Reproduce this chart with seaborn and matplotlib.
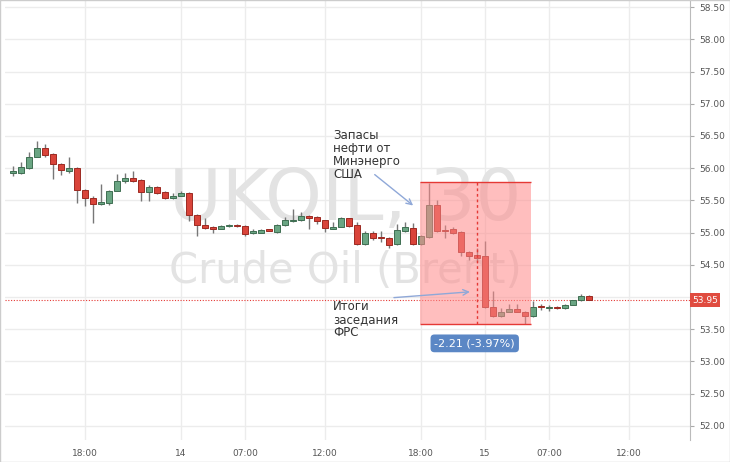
import matplotlib
matplotlib.use("Agg")
import matplotlib.pyplot as plt
from matplotlib.patches import Rectangle
import seaborn as sns
import numpy as np

sns.set_style("white")
plt.rcParams["font.family"] = ["DejaVu Sans"]

# -----------------------------
# Data: 30-minute candles, UKOIL
# -----------------------------
opens = [55.92, 55.92, 56.00, 56.18, 56.31, 56.22, 56.06, 55.95, 56.00, 55.66,
         55.54, 55.45, 55.46, 55.65, 55.80, 55.85, 55.82, 55.63, 55.71, 55.63,
         55.54, 55.57, 55.62, 55.28, 55.12, 55.09, 55.06, 55.10, 55.12, 55.10,
         55.00, 55.00, 55.04, 55.01, 55.11, 55.18, 55.19, 55.26, 55.24, 55.19,
         55.06, 55.09, 55.22, 55.11, 54.82, 54.99, 54.93, 54.92, 54.82, 55.02,
         55.07, 54.82, 54.93, 55.43, 55.04, 55.05, 55.01, 54.70, 54.65, 54.63,
         53.84, 53.70, 53.77, 53.82, 53.77, 53.70, 53.85, 53.83, 53.84, 53.83,
         53.88, 53.95, 54.02]
closes = [55.95, 56.02, 56.18, 56.31, 56.20, 56.06, 55.97, 56.00, 55.66, 55.54,
          55.45, 55.48, 55.65, 55.80, 55.85, 55.80, 55.63, 55.71, 55.62, 55.54,
          55.57, 55.62, 55.28, 55.12, 55.07, 55.06, 55.10, 55.12, 55.10, 54.98,
          55.02, 55.04, 55.03, 55.12, 55.19, 55.20, 55.26, 55.23, 55.18, 55.07,
          55.09, 55.22, 55.10, 54.82, 54.99, 54.92, 54.91, 54.81, 55.04, 55.08,
          54.82, 54.94, 55.43, 55.02, 55.02, 55.00, 54.70, 54.64, 54.61, 53.84,
          53.70, 53.77, 53.82, 53.77, 53.70, 53.84, 53.84, 53.85, 53.83, 53.88,
          53.95, 54.02, 53.96]
highs = [56.03, 56.09, 56.25, 56.42, 56.38, 56.23, 56.08, 56.17, 56.01, 55.68,
         55.56, 55.75, 55.66, 55.91, 55.92, 55.95, 55.83, 55.74, 55.72, 55.64,
         55.61, 55.64, 55.63, 55.29, 55.22, 55.10, 55.11, 55.14, 55.14, 55.11,
         55.06, 55.05, 55.05, 55.13, 55.24, 55.36, 55.32, 55.27, 55.25, 55.20,
         55.16, 55.24, 55.23, 55.16, 55.02, 55.03, 55.02, 54.93, 55.14, 55.17,
         55.15, 54.96, 55.77, 55.50, 55.11, 55.08, 55.02, 54.71, 54.76, 54.87,
         54.09, 53.83, 53.89, 53.89, 53.78, 53.93, 53.89, 53.88, 53.86, 53.89,
         53.96, 54.04, 54.03]
lows = [55.88, 55.91, 55.99, 56.17, 56.18, 55.83, 55.89, 55.93, 55.46, 55.42,
        55.15, 55.43, 55.43, 55.64, 55.77, 55.79, 55.49, 55.49, 55.60, 55.52,
        55.52, 55.56, 55.18, 54.94, 55.06, 55.00, 55.05, 55.09, 55.09, 54.94,
        54.98, 54.99, 55.02, 55.00, 55.10, 55.17, 55.18, 55.06, 55.14, 55.01,
        55.05, 55.08, 55.09, 54.81, 54.81, 54.88, 54.86, 54.76, 54.81, 55.01,
        54.80, 54.81, 54.92, 55.01, 54.91, 54.98, 54.63, 54.57, 54.55, 53.83,
        53.69, 53.69, 53.76, 53.76, 53.58, 53.69, 53.80, 53.79, 53.82, 53.82,
        53.87, 53.94, 53.95]

time_ticks = [9, 21, 29, 39, 51, 59, 67, 77]
time_labels = ["18:00", "14", "07:00", "12:00", "18:00", "15", "07:00", "12:00"]
price_ticks = np.arange(52.0, 58.51, 0.5)
last_price = 53.95

# -----------------------------
# Figure
# -----------------------------
fig = plt.figure(figsize=(7.3, 4.62), dpi=100)
ax = fig.add_axes([5 / 730, 22 / 462, 685 / 730, 440 / 462])
ax.set_xlim(-1, 84.6)
ax.set_ylim(51.78, 58.61)

for t in time_ticks:
    ax.axvline(t, color="#ececec", lw=1, zorder=0)
for p in price_ticks:
    ax.axhline(p, color="#ececec", lw=1, zorder=0)

green, green_e = "#6aa583", "#3f6e52"
red, red_e = "#d9443a", "#9c2a22"
x = np.arange(len(opens))
for i in x:
    o, c = opens[i], closes[i]
    up = c >= o
    fc, ec = (green, green_e) if up else (red, red_e)
    ax.vlines(i, lows[i], highs[i], color="#777777", lw=1, zorder=2)
    ax.bar(i, max(abs(c - o), 0.02), bottom=min(o, c), width=0.72,
           color=fc, edgecolor=ec, lw=0.7, zorder=3)

# watermark
ax.text(41.5, 55.5, "UKOIL, 30", fontsize=52, color="#e3e3e3",
        ha="center", va="center", zorder=1)
ax.text(41.5, 54.4, "Crude Oil (Brent)", fontsize=30, color="#e3e3e3",
        ha="center", va="center", zorder=1)

# selected range
ax.add_patch(Rectangle((50.9, 53.58), 13.85, 2.2, facecolor="#ff8a8a",
                       alpha=0.55, edgecolor="none", zorder=4))
ax.hlines([53.58, 55.78], 50.9, 64.75, color="#e53935", lw=1, zorder=5)
ax.vlines(58, 53.58, 55.78, color="#e53935", lw=1, ls=(0, (2, 2)), zorder=5)
ax.text(57.7, 53.28, "-2.21 (-3.97%)", fontsize=8, color="white",
        ha="center", va="center", zorder=6,
        bbox=dict(boxstyle="round,pad=0.35", fc="#5b87c5", ec="none"))

# last price line
ax.axhline(last_price, color="#e53935", lw=0.8, ls=(0, (1, 1.5)), zorder=2)

# annotations
arrow = dict(arrowstyle="->", color="#8fa8d8", lw=1, shrinkA=0, shrinkB=0)
ax.text(40, 56.6, "Запасы\nнефти от\nМинэнерго\nСША", fontsize=8.5,
        color="#333333", va="top", linespacing=1.0, zorder=6)
ax.annotate("", xy=(50.0, 55.42), xytext=(45.2, 55.9), arrowprops=arrow, zorder=6)
ax.text(40, 53.95, "Итоги\nзаседания\nФРС", fontsize=8.5,
        color="#333333", va="top", linespacing=1.0, zorder=6)
ax.annotate("", xy=(57.1, 54.08), xytext=(47.6, 53.99), arrowprops=arrow, zorder=6)

ax.set_xticks(time_ticks)
ax.set_xticklabels(time_labels)
ax.set_yticks(price_ticks)
ax.set_yticklabels(["" if abs(p - 54.0) < 1e-6 else f"{p:.2f}" for p in price_ticks])
ax.yaxis.tick_right()
ax.tick_params(axis="both", labelsize=6.5, colors="#555555", length=3, color="#aaaaaa")
for s in ["top", "left", "bottom"]:
    ax.spines[s].set_visible(False)
ax.spines["right"].set_color("#bbbbbb")

ax.text(1.003, (last_price - 51.78) / (58.61 - 51.78), f"{last_price:.2f}",
        transform=ax.transAxes, fontsize=6.5, color="white", va="center",
        ha="left", zorder=7,
        bbox=dict(boxstyle="square,pad=0.25", fc="#e04b3f", ec="none"))

fig.patches.append(Rectangle((0, 0), 1, 1, transform=fig.transFigure,
                             fill=False, ec="#cccccc", lw=1))
fig.savefig("out.png", dpi=100)
